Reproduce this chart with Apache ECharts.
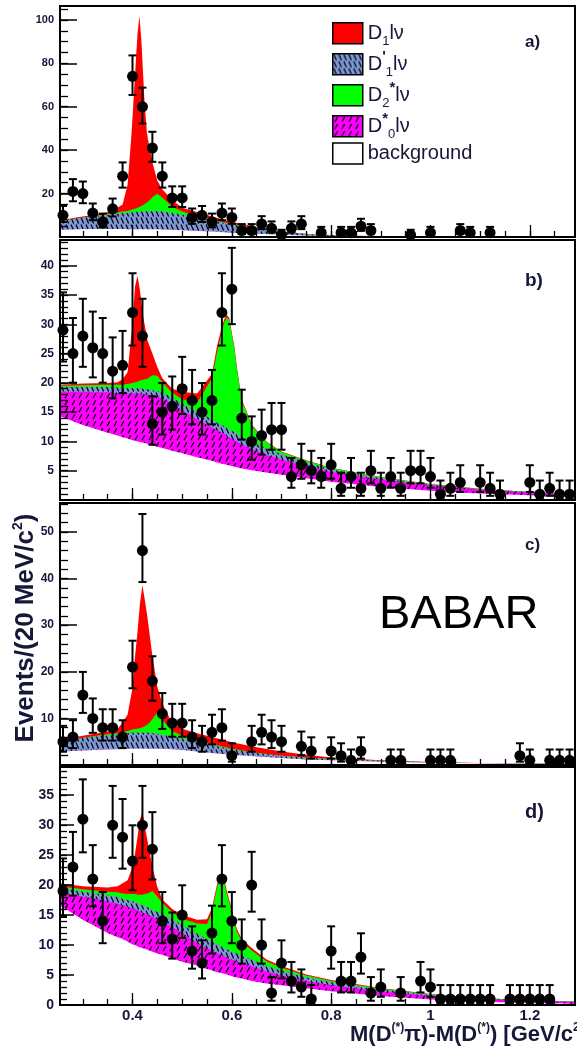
<!DOCTYPE html>
<html>
<head>
<meta charset="utf-8">
<script src="https://cdn.jsdelivr.net/npm/echarts@6.0.0/dist/echarts.min.js"></script>
<style>
html,body{margin:0;padding:0;background:#ffffff;}
#chart{width:577px;height:1054px;}
</style>
</head>
<body>
<div id="chart"></div>
<script>
// ================= DATA =================
// bin centres of the measured histogram [GeV/c^2]
const binCenters = [0.26,0.28,0.30,0.32,0.34,0.36,0.38,0.40,0.42,0.44,
  0.46,0.48,0.50,0.52,0.54,0.56,0.58,0.60,0.62,0.64,
  0.66,0.68,0.70,0.72,0.74,0.76,0.78,0.80,0.82,0.84,
  0.86,0.88,0.90,0.92,0.94,0.96,0.98,1.00,1.02,1.04,
  1.06,1.08,1.10,1.12,1.14,1.16,1.18,1.20,1.22,1.24,
  1.26,1.28];

// events per bin (null = empty bin, not drawn)
const countsA = [10,21,20,11,7,13,28,74,60,41, 28,18,18,9,10,7,11,9,3,3,
  6,4,1,4,6,null,2,null,2,2, 5,3,null,null,null,1,null,2,null,null,
  3,2,null,2,null,null,null,null,null,null, null,null];
const countsB = [29,25,28,26,25,22,23,32,28,13, 15,16,19,17,15,17,32,36,14,10,
  11,12,12,4,6,5,4,6,2,4, 2,5,2,4,2,5,5,4,1,2,
  3,null,3,2,1,null,null,3,1,2, 1,1];
const countsC = [5,6,15,10,8,8,6,21,46,18, 11,9,9,6,5,7,8,2,null,5,
  7,6,5,null,4,3,null,3,2,1, 3,null,null,1,1,null,null,1,1,1,
  null,null,null,null,null,null,2,1,null,1, 1,1];
const countsD = [19,23,31,21,14,30,28,24,30,26, 14,11,15,9,7,12,21,14,10,20,
  10,2,7,4,3,1,null,9,4,4, 8,2,3,null,2,null,4,3,1,1,
  1,1,1,1,null,1,1,1,1,1, null,null];

// ---- fit components (events per bin), sampled at fitX of each panel ----
// panel a
const fitXA = [0.254,0.29,0.33,0.36,0.38,0.39,0.398,0.402,0.406,0.41,
  0.414,0.418,0.421,0.424,0.429,0.435,0.441,0.45,0.46,0.48,
  0.50,0.53,0.56,0.60,0.65,0.70,0.76,0.85,1.0,1.15,1.291];
const bgA  = [3.3,3.6,3.7,3.7,3.7,3.6,3.6,3.6,3.6,3.6, 3.6,3.6,3.6,3.6,3.6,3.6,3.6,3.6,3.5,3.3,
  3.1,2.8,2.5,2.0,1.5,1.0,0.6,0.3,0.15,0.1,0.05];
const d0A  = [0,0,0,0,0,0,0,0,0,0, 0,0,0,0,0,0,0,0,0,0, 0,0,0,0,0,0,0,0,0,0,0];
const d1pA = [4.0,5.0,6.0,6.8,7.3,7.5,7.7,7.8,7.9,8.0, 8.1,8.1,8.2,8.2,8.3,8.3,8.3,8.3,8.2,7.8,
  7.2,6.2,5.2,3.8,2.4,1.3,0.6,0.2,0.05,0,0];
const d2A  = [0,0.05,0.2,0.4,0.7,0.9,1.2,1.4,1.6,1.8, 2.1,2.4,2.8,3.2,4.0,5.2,6.6,8.0,6.5,2.8,
  1.4,0.7,0.4,0.2,0.1,0.05,0,0,0,0,0];
const d1A  = [0.4,0.4,0.6,1.1,3.3,12,35,50,65,80, 88,76,62,48,32,23,15,6,3.8,3.1,
  1.8,1.8,1.4,1.0,0.5,0.2,0.1,0.05,0.05,0.05,0.03];
// panel b
const fitXB = [0.254,0.30,0.35,0.37,0.38,0.39,0.40,0.405,0.41,0.415,
  0.42,0.43,0.44,0.45,0.46,0.48,0.50,0.53,0.56,0.57,
  0.58,0.585,0.59,0.595,0.60,0.605,0.61,0.62,0.64,0.67,
  0.70,0.75,0.80,0.90,1.0,1.1,1.2,1.291];
const bgB  = [14.3,12.8,11.5,11.0,10.7,10.5,10.2,10.1,10.0,9.9, 9.8,9.6,9.3,9.1,8.9,8.4,8.0,7.3,6.7,6.4,
  6.2,6.1,6.0,5.9,5.8,5.7,5.6,5.4,5.1,4.7, 4.3,3.7,3.1,2.2,1.6,1.1,0.8,0.5];
const d0B  = [4.2,5.7,6.9,7.3,7.5,7.7,8.0,8.1,8.2,8.3, 8.3,8.4,8.5,8.6,8.4,8.1,7.3,6.5,5.7,5.5,
  5.3,5.2,4.9,4.8,4.7,4.6,4.4,4.1,3.6,3.0, 2.6,2.1,1.7,1.3,0.9,0.7,0.5,0.4];
const d1pB = [0.8,0.8,0.9,0.9,0.9,0.9,0.9,0.9,0.9,0.9, 0.9,0.9,0.9,0.9,1.0,1.0,1.1,1.3,1.4,1.3,
  1.3,1.3,1.3,1.3,1.3,1.3,1.3,1.3,1.2,1.1, 0.9,0.6,0.4,0.2,0.1,0.05,0.03,0.02];
const d2B  = [0.2,0.3,0.4,0.5,0.6,0.7,0.9,1.0,1.1,1.3, 1.5,1.8,2.6,2.6,1.8,0.8,0.8,1.5,7.0,12.0,
  16.0,17.8,19.0,18.8,16.4,14.4,11.2,6.2,2.8,1.0, 0.4,0.3,0.25,0.2,0.1,0.05,0.03,0.02];
const d1B  = [0.2,0.3,0.3,0.4,0.9,2.0,10.1,16.3,18.1,15.4, 11.6,6.6,3.7,1.5,0.7,0.7,1.3,1.6,0.7,1.0,
  0.8,0.5,0.4,0.3,0.3,0.3,0.3,0.2,0.2,0.15, 0.1,0.08,0.05,0.03,0.02,0.02,0.01,0.01];
// panel c
const fitXC = [0.254,0.30,0.35,0.37,0.38,0.39,0.40,0.405,0.41,0.415,
  0.42,0.425,0.43,0.435,0.44,0.45,0.46,0.48,0.50,0.53,
  0.56,0.60,0.65,0.70,0.75,0.80,0.90,1.0,1.1,1.2,1.291];
const bgC  = [2.9,3.1,3.3,3.4,3.5,3.5,3.5,3.5,3.5,3.5, 3.5,3.5,3.5,3.5,3.5,3.5,3.5,3.4,3.2,2.9,
  2.6,2.2,1.8,1.5,1.2,1.0,0.7,0.5,0.35,0.25,0.2];
const d0C  = [0,0,0,0,0,0,0,0,0,0, 0,0,0,0,0,0,0,0,0,0, 0,0,0,0,0,0,0,0,0,0,0];
const d1pC = [2.1,2.7,3.1,3.1,3.2,3.3,3.4,3.4,3.4,3.4, 3.4,3.4,3.4,3.35,3.3,3.2,3.0,2.7,2.5,2.1,
  1.7,1.2,0.8,0.5,0.4,0.3,0.2,0.1,0.05,0.05,0.02];
const d2C  = [0,0.05,0.2,0.3,0.4,0.5,0.7,0.8,0.9,1.0, 1.2,1.4,1.8,2.3,3.0,4.6,3.2,1.2,0.6,0.3,
  0.2,0.1,0.05,0,0,0,0,0,0,0,0];
const d1C  = [0.4,0.45,0.6,0.9,2.0,3.5,8.9,15.5,20.7,26.8, 30.4,27,23.1,18.4,13.7,5.5,3.5,1.6,1.5,1.5,
  1.5,1.4,1.15,0.9,0.6,0.3,0.1,0.05,0.05,0.02,0.03];
// panel d
const fitXD = [0.254,0.30,0.35,0.37,0.38,0.39,0.40,0.405,0.41,0.415,
  0.42,0.425,0.43,0.44,0.45,0.46,0.48,0.50,0.53,0.55,
  0.56,0.565,0.57,0.575,0.58,0.585,0.59,0.60,0.61,0.62,
  0.64,0.67,0.70,0.75,0.80,0.90,1.0,1.1,1.2,1.291];
const bgD  = [16.6,14.2,12.0,11.3,11.0,10.6,10.1,10.0,9.8,9.6, 9.5,9.4,9.2,8.9,8.6,8.4,7.8,7.2,6.6,6.0,
  5.8,5.6,5.5,5.4,5.3,5.2,5.1,4.8,4.6,4.4, 4.0,3.6,3.3,2.8,2.3,1.5,0.9,0.55,0.35,0.25];
const d0D  = [2.1,3.9,5.3,5.6,5.6,5.8,6.0,6.0,6.0,6.0, 5.9,5.9,5.9,5.8,5.7,5.5,5.2,4.8,3.8,3.5,
  3.3,3.3,3.2,3.1,3.0,2.9,2.8,2.8,2.7,2.6, 2.5,2.0,1.6,1.2,1.0,0.8,0.6,0.45,0.35,0.25];
const d1pD = [0.8,0.8,1.0,1.1,1.1,1.1,1.2,1.2,1.2,1.2, 1.2,1.2,1.2,1.2,1.2,1.3,1.3,1.4,1.5,1.5,
  1.5,1.5,1.5,1.4,1.4,1.4,1.4,1.3,1.3,1.2, 1.1,0.9,0.8,0.6,0.5,0.3,0.2,0.1,0.05,0.03];
const d2D  = [0.3,0.4,0.6,0.8,0.9,1.0,1.2,1.3,1.4,1.6, 1.8,2.0,2.3,3.1,2.6,1.8,1.2,1.0,1.7,2.5,
  4.9,7.1,9.3,11.1,11.5,10.8,9.2,6.6,3.7,2.4, 1.5,0.8,0.5,0.3,0.2,0.15,0.1,0.05,0.03,0.02];
const d1D  = [0.5,0.5,0.7,1.0,1.7,2.3,4.5,6.7,9.6,12.6, 13.8,11.2,8.9,4.1,1.6,0.6,0.5,0.6,0.6,0.8,
  0.7,0.6,0.5,0.5,0.5,0.5,0.5,0.4,0.4,0.4, 0.4,0.3,0.3,0.2,0.15,0.1,0.05,0.03,0.02,0.02];

// tick labels
const xLabelValues = [0.4, 0.6, 0.8, 1, 1.2];
const xMinorValues = [0.30,0.35,0.40,0.45,0.50,0.55,0.60,0.65,0.70,0.75,0.80,0.85,0.90,0.95,1.00,1.05,1.10,1.15,1.20,1.25];
const yLabelsA = [20, 40, 60, 80, 100];
const yLabelsB = [5, 10, 15, 20, 25, 30, 35, 40];
const yLabelsC = [10, 20, 30, 40, 50];
const yLabelsD = [0, 5, 10, 15, 20, 25, 30, 35];
const panelTags = ['a)', 'b)', 'c)', 'd)'];
const legendNames = ['D1', "D1'", 'D2*', 'D0*', 'background'];

// ================= STYLE / LAYOUT =================
const FONT = 'Liberation Sans, Arial, Helvetica, sans-serif';
const INK = '#17173a';
const X_MIN = 0.254, X_MAX = 1.291;

function hatch(bg, w, h, x1, y1, x2, y2, lw) {
  const c = document.createElement('canvas');
  c.width = w; c.height = h;
  const g = c.getContext('2d');
  g.fillStyle = bg; g.fillRect(0, 0, w, h);
  g.strokeStyle = '#000'; g.lineWidth = lw; g.lineCap = 'butt';
  g.beginPath(); g.moveTo(x1, y1); g.lineTo(x2, y2); g.stroke();
  return { image: c, repeat: 'repeat' };
}
const FILL = {
  'D1': '#ff0000',
  'D2*': '#00ff00',
  "D1'": hatch('#7e97d6', 5, 7, 1, 0.5, 3.6, 6.5, 1.2),
  'D0*': hatch('#ff00ff', 7, 7, 2, 6.3, 4.8, 1.2, 1.3),
  'background': '#ffffff'
};

const panels = [
  { xs: fitXA, comps: [bgA, d0A, d1pA, d2A, d1A], counts: countsA, top: 6,   height: 231, ymax: 106.4, labels: yLabelsA, minorStep: 5, fs: 11, major: 17, minor: 8 },
  { xs: fitXB, comps: [bgB, d0B, d1pB, d2B, d1B], counts: countsB, top: 240, height: 260, ymax: 44.4,  labels: yLabelsB, minorStep: 1, fs: 12, major: 17, minor: 8 },
  { xs: fitXC, comps: [bgC, d0C, d1pC, d2C, d1C], counts: countsC, top: 503, height: 262, ymax: 56.2,  labels: yLabelsC, minorStep: 2, fs: 12, major: 17, minor: 8 },
  { xs: fitXD, comps: [bgD, d0D, d1pD, d2D, d1D], counts: countsD, top: 767, height: 238, ymax: 39.7,  labels: yLabelsD, minorStep: 1, fs: 14, major: 14, minor: 7 }
];
// stacking order bottom -> top
const stackNames = ['background', 'D0*', "D1'", 'D2*', 'D1'];

// asymmetric Poisson (Gehrels) interval for the error bars of a count
function poissonLow(n) { const r = 1 - 1 / (9 * n) - 1 / (3 * Math.sqrt(n)); return n - n * r * r * r; }
function poissonHigh(n) { return Math.sqrt(n + 0.75) + 1; }

const grids = [], xAxes = [], yAxes = [], series = [], graphics = [];

panels.forEach((p, k) => {
  const gMain = 2 * k, gOver = 2 * k + 1;
  grids.push({ left: 60, width: 515, top: p.top, height: p.height, show: true,
    borderColor: '#000', borderWidth: 2, backgroundColor: 'transparent', z: 10 });
  grids.push({ left: 60, width: 515, top: p.top, height: p.height, show: false });

  const yMinor = [];
  for (let v = p.minorStep; v < p.ymax; v += p.minorStep) yMinor.push(v);

  xAxes.push({
    type: 'value', gridIndex: gMain, min: X_MIN, max: X_MAX, z: 10,
    axisLine: { show: true, lineStyle: { color: '#000', width: 2 } },
    axisTick: { show: true, inside: true, length: 6, customValues: xMinorValues, lineStyle: { color: '#000', width: 1.3 } },
    axisLabel: k === 3 ? {
      show: true, customValues: xLabelValues, margin: 3, color: INK, fontSize: 15, fontWeight: 'bold', fontFamily: FONT,
      formatter: v => String(Math.round(v * 10) / 10)
    } : { show: false },
    splitLine: { show: false }
  });
  xAxes.push({
    type: 'value', gridIndex: gOver, min: X_MIN, max: X_MAX, z: 10,
    axisLine: { show: false },
    axisTick: { show: true, inside: true, length: 12, customValues: xLabelValues, lineStyle: { color: '#000', width: 1.3 } },
    axisLabel: { show: false }, splitLine: { show: false }
  });
  yAxes.push({
    type: 'value', gridIndex: gMain, min: 0, max: p.ymax, z: 10,
    axisLine: { show: true, lineStyle: { color: '#000', width: 2 } },
    axisTick: { show: true, inside: true, length: p.minor, customValues: yMinor, lineStyle: { color: '#000', width: 1.3 } },
    axisLabel: { show: true, customValues: p.labels, margin: 6, color: INK, fontSize: p.fs, fontWeight: 'bold', fontFamily: FONT },
    splitLine: { show: false }
  });
  yAxes.push({
    type: 'value', gridIndex: gOver, min: 0, max: p.ymax, z: 10,
    axisLine: { show: false },
    axisTick: { show: true, inside: true, length: p.major, customValues: p.labels, lineStyle: { color: '#000', width: 1.5 } },
    axisLabel: { show: false }, splitLine: { show: false }
  });

  // cumulative fit components, painted from the top-most sum down
  const cum = [];
  let run = p.xs.map(() => 0);
  p.comps.forEach(arr => { run = run.map((v, i) => v + arr[i]); cum.push(run.slice()); });
  for (let c = stackNames.length - 1; c >= 0; c--) {
    const name = stackNames[c];
    series.push({
      type: 'line', name: name, xAxisIndex: gMain, yAxisIndex: gMain,
      data: p.xs.map((x, i) => [x, cum[c][i]]),
      showSymbol: false, symbol: 'none', silent: true, z: 2,
      lineStyle: { width: 0, color: typeof FILL[name] === 'string' ? FILL[name] : '#888' },
      itemStyle: { color: typeof FILL[name] === 'string' ? FILL[name] : '#888' },
      areaStyle: { color: FILL[name], opacity: 1, origin: 'start' },
      clip: true
    });
  }

  // measured points
  const pts = [], bars = [];
  binCenters.forEach((x, i) => {
    const n = p.counts[i];
    if (n === null) return;
    pts.push([x, n]);
    bars.push([x, n, poissonLow(n), poissonHigh(n)]);
  });
  series.push({
    type: 'custom', name: 'errors', xAxisIndex: gMain, yAxisIndex: gMain, z: 4, silent: true,
    encode: { x: 0, y: 1 }, data: bars, clip: false,
    renderItem: function (params, api) {
      const x = api.value(0), n = api.value(1), lo = api.value(2), hi = api.value(3);
      const a = api.coord([x, n - lo]), b = api.coord([x, n + hi]);
      const st = { stroke: '#000', lineWidth: 2 };
      return { type: 'group', children: [
        { type: 'line', shape: { x1: a[0], y1: a[1], x2: b[0], y2: b[1] }, style: st },
        { type: 'line', shape: { x1: a[0] - 4, y1: a[1], x2: a[0] + 4, y2: a[1] }, style: st },
        { type: 'line', shape: { x1: b[0] - 4, y1: b[1], x2: b[0] + 4, y2: b[1] }, style: st }
      ] };
    }
  });
  series.push({
    type: 'scatter', name: 'data', xAxisIndex: gMain, yAxisIndex: gMain, z: 5, silent: true,
    data: pts, symbol: 'circle', symbolSize: 11, itemStyle: { color: '#000', opacity: 1 }
  });
});

// panel tags
const tagPos = [[525, 42, 17], [525, 281, 19], [525, 545, 17], [525, 812, 20]];
panelTags.forEach((t, k) => {
  graphics.push({ type: 'text', x: tagPos[k][0], y: tagPos[k][1], z: 20,
    style: { text: t, fill: INK, fontFamily: FONT, fontWeight: 'bold', fontSize: tagPos[k][2], align: 'left', verticalAlign: 'middle' } });
});
graphics.push({ type: 'text', x: 379, y: 615, z: 20,
  style: { text: 'BABAR', fill: '#000', fontFamily: FONT, fontSize: 47, align: 'left', verticalAlign: 'middle' } });
graphics.push({ type: 'text', x: 26, y: 628, rotation: Math.PI / 2, z: 20,
  style: { text: '{t|Events/(20 MeV/c}{u|2}{t|)}', align: 'center', verticalAlign: 'middle',
    rich: { t: { fontSize: 26, fontWeight: 'bold', fontFamily: FONT, fill: INK, color: INK, lineHeight: 30 },
            u: { fontSize: 14, fontWeight: 'bold', fontFamily: FONT, fill: INK, color: INK, lineHeight: 14, verticalAlign: 'top' } } } });
graphics.push({ type: 'text', x: 350, y: 1035, z: 20,
  style: { text: '{t|M(D}{u|(*)}{t|π)-M(D}{u|(*)}{t|) [GeV/c}{u|2}{t|]}', align: 'left', verticalAlign: 'middle',
    rich: { t: { fontSize: 22, fontWeight: 'bold', fontFamily: FONT, fill: INK, color: INK, lineHeight: 26 },
            u: { fontSize: 12, fontWeight: 'bold', fontFamily: FONT, fill: INK, color: INK, lineHeight: 12, verticalAlign: 'top' } } } });

const legendText = {
  'D1': '{m|D}{s|1}{m|lν}',
  "D1'": "{m|D}{p|'}{s|1}{m|lν}",
  'D2*': '{m|D}{s|2}{p|*}{m|lν}',
  'D0*': '{m|D}{p|*}{s|0}{m|lν}',
  'background': '{m|background}'
};

const option = {
  backgroundColor: '#ffffff',
  animation: false,
  textStyle: { fontFamily: FONT },
  grid: grids, xAxis: xAxes, yAxis: yAxes, series: series,
  legend: {
    left: 327, top: 17, orient: 'vertical', itemWidth: 30, itemHeight: 21, itemGap: 1,
    selectedMode: false, z: 20,
    data: legendNames.map(n => ({ name: n, icon: 'rect',
      itemStyle: { color: FILL[n], borderColor: '#000', borderWidth: 1.5, opacity: 1 } })),
    formatter: n => legendText[n],
    textStyle: { color: INK, fontFamily: FONT, fontSize: 20,
      rich: {
        m: { fontSize: 20, lineHeight: 30, color: INK, fontFamily: FONT },
        s: { fontSize: 13, lineHeight: 13, verticalAlign: 'bottom', color: INK, fontFamily: FONT },
        p: { fontSize: 15, lineHeight: 15, verticalAlign: 'top', color: INK, fontFamily: FONT, fontWeight: 'bold' }
      } }
  },
  graphic: graphics
};

const chart = echarts.init(document.getElementById('chart'), null, { renderer: 'canvas' });
chart.setOption(option);
</script>
</body>
</html>
